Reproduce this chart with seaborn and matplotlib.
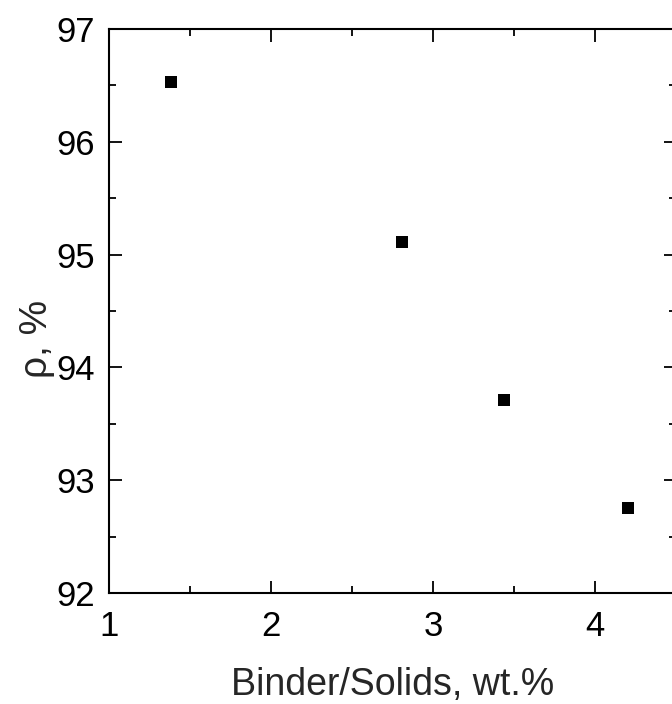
import matplotlib
matplotlib.use("Agg")
import matplotlib.pyplot as plt
import seaborn as sns
import pandas as pd
from matplotlib.ticker import MultipleLocator

# data
binder = [1.38, 2.81, 3.44, 4.20]
density = [96.53, 95.11, 93.71, 92.75]

df = pd.DataFrame({"binder": binder, "density": density})

sns.set_style("ticks")
plt.rcParams["font.family"] = ["Liberation Sans", "DejaVu Sans"]

fig = plt.figure(figsize=(6.72, 7.04), dpi=100)
# right spine sits just past the image edge, like the reference crop
ax = fig.add_axes([0.1622, 0.1577, 0.844, 0.8011])

sns.scatterplot(data=df, x="binder", y="density", marker="s", s=81,
                color="black", edgecolor="black", linewidth=0, ax=ax)

ax.set_xlim(1, 4.5)
ax.set_ylim(92, 97)
ax.xaxis.set_major_locator(MultipleLocator(1))
ax.xaxis.set_minor_locator(MultipleLocator(0.5))
ax.yaxis.set_major_locator(MultipleLocator(1))
ax.yaxis.set_minor_locator(MultipleLocator(0.5))

for s in ax.spines.values():
    s.set_linewidth(1.5)
    s.set_color("black")

ax.tick_params(which="both", direction="in", top=True, right=True,
               width=1.3, color="black", labelcolor="black")
ax.tick_params(which="major", length=9)
ax.tick_params(which="minor", length=4.7)
ax.tick_params(axis="x", labelsize=25, pad=12.5)
ax.tick_params(axis="y", labelsize=25, pad=10)

ax.set_xlabel("Binder/Solids, wt.%", fontsize=27, labelpad=17)
ax.set_ylabel("ρ, %", fontsize=28)
ax.yaxis.set_label_coords(-0.095, 0.45)

fig.savefig("out.png", dpi=100)
